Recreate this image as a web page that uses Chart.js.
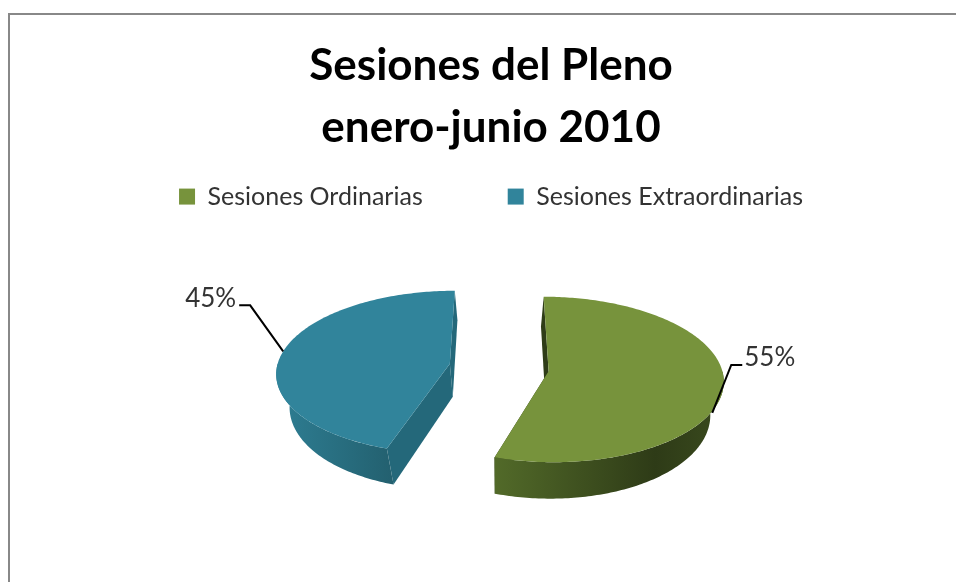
<!DOCTYPE html>
<html>
<head>
<meta charset="utf-8">
<script src="https://cdn.jsdelivr.net/npm/chart.js@4.4.1/dist/chart.umd.min.js"></script>
<style>
html, body { margin: 0; padding: 0; background: #fff; overflow: hidden; }
canvas { display: block; }
</style>
</head>
<body>
<canvas id="pieChart" width="956" height="582"></canvas>
<script>
var categories = ['Sesiones Ordinarias', 'Sesiones Extraordinarias'];
var percentValues = [55, 45];
var sliceColors = ['#77933c', '#31849b'];
var titleLines = ['Sesiones del Pleno', 'enero-junio 2010'];

// 3d look
var tilt = 0.474, depth = 33, explode = 50, persp = 0.10, shrink = 0.06, shiftX = 8;
var sideColors = [['#526a29', '#2e3b17', '#3a4a1e'], ['#2e7e93', '#23606f']];
var cutColors = ['#2f3d18', '#24687a'];
var labelLayout = [
    { h: 28, elbow: [19, -48], tail: 11 },
    { h: 0, elbow: [-33, -46], tail: -11 }
];

function proj(el, r, a, h) {
    var mid = (el.startAngle + el.endAngle) / 2;
    var R = el.outerRadius;
    var X = explode * Math.cos(mid) + r * Math.cos(a);
    var Z = explode * Math.sin(mid) + r * Math.sin(a);
    var s = 1 + persp * Z / R;
    var hs = 1 - shrink * h / depth;
    return { x: el.x + shiftX + X * s * hs, y: el.y + tilt * Z * s + h * s };
}

function rimPoints(el, a0, a1, h) {
    var pts = [];
    var n = Math.max(8, Math.ceil(Math.abs(a1 - a0) * 60));
    for (var k = 0; k <= n; k++) {
        pts.push(proj(el, el.outerRadius, a0 + (a1 - a0) * k / n, h));
    }
    return pts;
}

function drawSides(c, el, i) {
    var R = el.outerRadius;
    // cut faces
    [el.startAngle, el.endAngle].forEach(function (a) {
        var p = [proj(el, 0, a, 0), proj(el, R, a, 0), proj(el, R, a, depth), proj(el, 0, a, depth)];
        c.beginPath();
        c.moveTo(p[0].x, p[0].y);
        for (var k = 1; k < 4; k++) c.lineTo(p[k].x, p[k].y);
        c.closePath();
        c.fillStyle = cutColors[i];
        c.fill();
    });
    // outer side, front half only
    for (var t = -1; t <= 1; t++) {
        var lo = Math.max(el.startAngle, 2 * Math.PI * t);
        var hi = Math.min(el.endAngle, 2 * Math.PI * t + Math.PI);
        if (hi <= lo) continue;
        var top = rimPoints(el, lo, hi, 0);
        var bot = rimPoints(el, lo, hi, depth).reverse();
        var all = top.concat(bot);
        var minX = Math.min.apply(null, all.map(function (p) { return p.x; }));
        var maxX = Math.max.apply(null, all.map(function (p) { return p.x; }));
        var g = c.createLinearGradient(minX, 0, maxX, 0);
        var cols = sideColors[i];
        cols.forEach(function (col, k) {
            g.addColorStop(k === 0 ? 0 : (k === 1 && cols.length > 2 ? 0.7 : 1), col);
        });
        c.beginPath();
        c.moveTo(all[0].x, all[0].y);
        all.forEach(function (p) { c.lineTo(p.x, p.y); });
        c.closePath();
        c.fillStyle = g;
        c.fill();
    }
}

function drawTop(c, el, i) {
    var ctr = proj(el, 0, 0, 0);
    var pts = rimPoints(el, el.startAngle, el.endAngle, 0);
    c.beginPath();
    c.moveTo(ctr.x, ctr.y);
    pts.forEach(function (p) { c.lineTo(p.x, p.y); });
    c.closePath();
    c.fillStyle = sliceColors[i];
    c.fill();
}

var pie3d = {
    id: 'pie3d',
    beforeDraw: function (chart) {
        // chart frame, only top and left edges are inside the picture
        var c = chart.ctx;
        c.save();
        c.fillStyle = '#888';
        c.fillRect(8, 13, chart.width - 8, 2);
        c.fillRect(8, 13, 2, chart.height - 13);
        c.restore();
    },
    beforeDatasetsDraw: function (chart) {
        var meta = chart.getDatasetMeta(0);
        var c = chart.ctx;
        c.save();
        meta.data.forEach(function (el, i) { drawSides(c, el, i); });
        meta.data.forEach(function (el, i) { drawTop(c, el, i); });
        c.restore();
        return false;
    },
    afterDraw: function (chart) {
        var meta = chart.getDatasetMeta(0);
        var c = chart.ctx;
        var total = percentValues.reduce(function (s, v) { return s + v; }, 0);
        c.save();
        meta.data.forEach(function (el, i) {
            var lay = labelLayout[i];
            var mid = (el.startAngle + el.endAngle) / 2;
            var a = proj(el, el.outerRadius, mid, lay.h);
            var e = { x: a.x + lay.elbow[0], y: a.y + lay.elbow[1] };
            var t = { x: e.x + lay.tail, y: e.y };
            c.beginPath();
            c.moveTo(a.x, a.y);
            c.lineTo(e.x, e.y);
            c.lineTo(t.x, t.y);
            c.strokeStyle = '#000';
            c.lineWidth = 2;
            c.stroke();
            c.font = '26px Lato';
            c.fillStyle = '#333';
            c.textBaseline = 'middle';
            c.textAlign = lay.tail < 0 ? 'right' : 'left';
            c.fillText(Math.round(percentValues[i] / total * 100) + '%', t.x + (lay.tail < 0 ? -3 : 2), t.y - 7);
        });
        c.restore();
    }
};

var ctx = document.getElementById('pieChart').getContext('2d');

var pieChart = new Chart(ctx, {
    type: 'pie',
    data: {
        labels: categories,
        datasets: [{
            data: percentValues,
            backgroundColor: sliceColors,
            borderWidth: 0
        }]
    },
    options: {
        responsive: false,
        animation: false,
        radius: 173,
        layout: {
            padding: { left: 26, right: 0, top: 0, bottom: 66 }
        },
        plugins: {
            title: {
                display: true,
                text: titleLines,
                color: '#000',
                font: { family: 'Lato', size: 44, weight: 'bold', lineHeight: 1.41 },
                padding: { top: 35, bottom: -60 }
            },
            legend: {
                position: 'top',
                labels: {
                    boxWidth: 16,
                    boxHeight: 16,
                    padding: 85,
                    color: '#333',
                    font: { family: 'Lato', size: 25 }
                }
            },
            tooltip: { enabled: false }
        }
    },
    plugins: [pie3d]
});
</script>
</body>
</html>
